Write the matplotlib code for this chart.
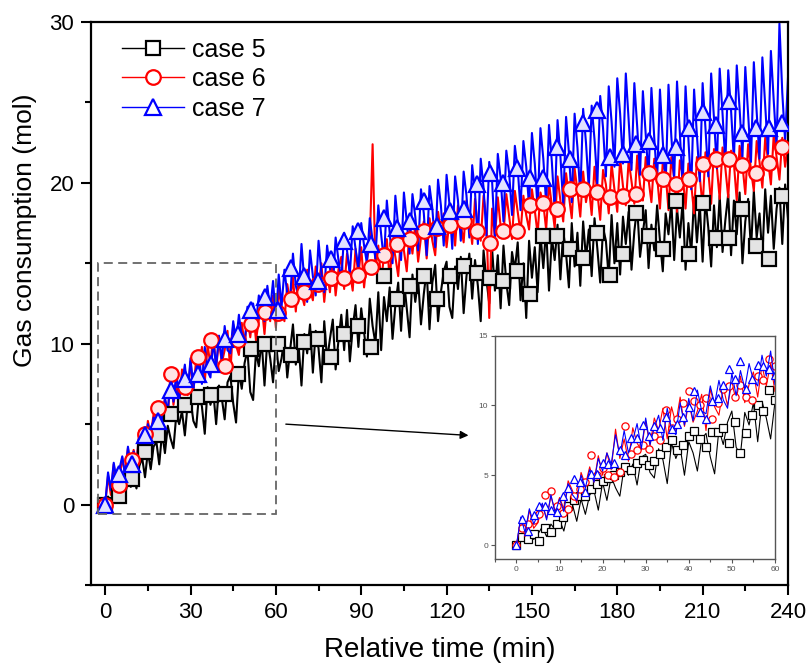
import matplotlib
matplotlib.use("Agg")
import matplotlib.pyplot as plt
from matplotlib.lines import Line2D
from matplotlib.patches import Rectangle
from matplotlib.ticker import MultipleLocator

plt.rcParams['font.family'] = ['Liberation Sans', 'DejaVu Sans']

labels = ["case 5", "case 6", "case 7"]

# dense measurement series, one value per minute (0..240)
time_dense = list(range(0, 241))

case5_dense = [
    0.0, 0.5, 0.2, 0.9, 0.4, 0.8, 1.3, 0.6, 1.5, 1.1,
    1.8, 1.0, 2.4, 2.9, 1.7, 3.3, 2.2, 3.6, 3.9, 2.5,
    4.5, 3.2, 4.9, 4.1, 3.5, 5.6, 5.0, 5.8, 4.3, 6.3,
    6.5, 5.2, 4.8, 6.9, 6.1, 4.4, 7.3, 6.2, 7.0, 5.0,
    7.4, 6.6, 5.3, 7.6, 8.0, 6.3, 5.1, 8.3, 7.2, 8.8,
    9.6, 7.0, 6.5, 9.5, 8.6, 10.2, 7.4, 10.3, 9.1, 7.6,
    10.2, 8.3, 9.1, 10.4, 7.9, 9.6, 11.2, 8.7, 9.9, 7.4,
    10.6, 9.4, 11.2, 8.2, 10.8, 9.7, 7.6, 11.4, 9.0, 10.3,
    11.5, 8.4, 10.2, 11.8, 9.6, 12.1, 8.9, 11.0, 12.4, 9.8,
    12.2, 10.7, 9.2, 12.8, 11.1, 10.0, 13.2, 9.6, 12.9, 11.4,
    13.5, 10.3, 12.4, 13.8, 10.8, 14.0, 12.2, 10.4, 14.3, 12.6,
    14.0, 11.2, 13.1, 14.6, 10.9, 13.8, 14.9, 11.4, 13.2, 14.5,
    15.1, 12.3, 11.6, 14.8, 13.4, 15.4, 11.9, 14.2, 15.6, 12.8,
    15.2, 13.6, 11.4, 15.8, 14.0, 12.5, 15.9, 13.3, 15.5, 12.2,
    16.1, 13.8, 12.4, 15.7, 14.6, 16.3, 12.7, 15.0, 11.6, 16.4,
    14.1, 16.0, 13.2, 16.8, 14.7, 17.2, 13.3, 16.6, 15.2, 17.4,
    14.0, 17.0, 15.6, 13.5, 17.5, 14.8, 16.9, 13.6, 17.6, 15.3,
    17.1, 14.2, 17.8, 15.9, 13.8, 17.2, 16.4, 14.1, 18.0, 15.0,
    17.5, 14.3, 17.9, 16.2, 18.2, 14.6, 17.0, 18.5, 15.4, 16.9,
    18.3, 14.7, 17.4, 15.8, 18.6, 16.4, 14.5, 18.1, 16.8, 18.8,
    15.2, 18.4, 16.6, 18.9, 14.6, 17.5, 15.6, 19.1, 16.3, 18.7,
    15.1, 19.0, 17.2, 14.8, 18.6, 16.0, 19.2, 15.7, 17.7, 19.3,
    15.5, 18.9, 16.8, 19.4, 15.0, 17.6, 19.0, 15.8, 19.5, 16.6,
    18.1, 15.4, 19.6, 16.9, 19.2, 15.9, 18.4, 19.7, 16.2, 19.9,
    17.8,
]

case6_dense = [
    0.0, 1.8, 0.6, 2.5, 1.2, 1.6, 2.9, 1.9, 3.5, 2.4,
    3.4, 2.6, 4.6, 3.9, 3.0, 5.2, 4.3, 5.6, 4.5, 6.4,
    5.0, 6.6, 5.4, 8.3, 6.2, 7.6, 6.0, 8.4, 7.3, 6.8,
    8.9, 7.1, 9.1, 8.2, 9.8, 7.6, 9.9, 8.7, 10.6, 8.5,
    10.2, 8.8, 9.6, 10.8, 8.2, 11.2, 9.9, 9.3, 11.3, 10.0,
    11.6, 10.4, 12.1, 10.2, 11.5, 12.4, 10.6, 12.9, 11.4, 13.0,
    11.0, 13.4, 12.2, 11.4, 13.7, 12.6, 14.1, 12.0, 14.2, 13.1,
    12.4, 14.6, 13.4, 12.7, 14.8, 13.6, 15.0, 12.6, 14.4, 13.2,
    15.3, 13.0, 14.6, 15.4, 13.4, 15.6, 14.5, 13.3, 15.9, 14.2,
    16.0, 13.5, 15.2, 16.2, 22.4, 14.6, 16.1, 13.8, 15.5, 16.5,
    13.9, 16.4, 15.4, 14.2, 16.7, 15.8, 14.5, 17.1, 15.6, 17.4,
    15.1, 16.6, 17.6, 15.3, 17.8, 16.4, 15.5, 18.2, 16.9, 18.1,
    16.0, 17.6, 18.4, 16.1, 18.6, 17.4, 16.3, 18.9, 17.8, 16.2,
    19.0, 17.2, 16.4, 19.2, 17.8, 11.6, 18.4, 16.6, 19.1, 17.3,
    16.8, 19.3, 17.9, 16.5, 19.5, 18.2, 16.9, 19.2, 18.0, 17.1,
    19.6, 18.3, 16.8, 19.4, 18.7, 17.1, 20.0, 18.6, 17.2, 20.4,
    18.9, 17.6, 20.6, 19.2, 17.8, 20.9, 19.5, 17.9, 20.7, 18.8,
    19.8, 18.0, 21.0, 19.4, 17.7, 20.8, 19.9, 18.1, 21.2, 19.6,
    18.2, 21.5, 19.8, 18.6, 21.4, 20.1, 18.7, 21.7, 19.9, 18.9,
    21.6, 20.2, 18.8, 21.5, 20.4, 18.4, 21.3, 20.6, 18.3, 21.6,
    20.3, 18.2, 21.4, 20.5, 18.4, 21.2, 19.9, 18.1, 21.6, 20.4,
    18.5, 21.9, 20.7, 18.7, 22.1, 21.0, 19.0, 22.2, 20.9, 19.1,
    22.0, 21.2, 18.9, 22.3, 21.1, 19.3, 22.4, 20.8, 19.5, 22.6,
    21.3, 19.7, 22.8, 21.4, 19.9, 23.0, 21.6, 20.2, 22.8, 21.0,
    22.4,
]

case7_dense = [
    0.0, 2.0, 0.9, 2.6, 1.5, 2.2, 3.0, 1.8, 3.6, 2.3,
    3.3, 2.4, 4.4, 3.6, 3.2, 5.0, 4.1, 5.4, 4.5, 6.2,
    5.3, 6.6, 5.8, 7.9, 6.4, 8.2, 6.6, 7.5, 8.7, 6.9,
    9.1, 7.2, 8.4, 9.3, 7.5, 9.8, 8.3, 7.9, 10.2, 8.6,
    10.5, 8.9, 11.1, 9.6, 9.4, 11.4, 10.1, 11.8, 10.4, 9.8,
    12.3, 10.7, 12.5, 11.2, 13.0, 11.8, 11.4, 13.6, 12.1, 13.9,
    11.5, 14.3, 12.3, 14.6, 13.1, 12.8, 15.6, 13.6, 12.9, 16.2,
    13.9, 12.6, 15.8, 14.2, 13.0, 16.4, 14.4, 13.2, 16.1, 14.7,
    13.6, 16.6, 15.2, 13.9, 16.9, 15.8, 14.3, 17.3, 15.9, 14.7,
    17.5, 16.1, 15.0, 17.8, 16.4, 15.3, 18.6, 16.8, 15.1, 18.9,
    16.9, 15.0, 19.2, 17.3, 15.2, 19.4, 17.6, 15.6, 19.3, 17.9,
    15.8, 19.6, 18.1, 15.5, 19.8, 18.4, 16.0, 20.2, 18.6, 16.1,
    20.5, 18.7, 15.9, 20.4, 18.9, 16.4, 20.7, 19.2, 16.6, 21.1,
    19.4, 16.2, 21.5, 19.7, 16.7, 21.3, 20.1, 16.5, 21.8, 20.3,
    17.6, 22.0, 20.6, 18.0, 22.3, 20.9, 18.3, 22.6, 21.0, 18.5,
    23.1, 21.2, 18.4, 23.4, 21.5, 18.7, 23.6, 21.3, 18.3, 23.9,
    21.7, 18.6, 24.1, 21.9, 18.8, 24.3, 22.2, 19.2, 24.6, 22.5,
    19.6, 24.8, 22.7, 19.9, 25.4, 23.4, 20.4, 26.0, 23.8, 21.0,
    26.5, 24.3, 21.2, 26.8, 23.9, 20.8, 26.2, 23.5, 20.5, 25.7,
    23.0, 20.3, 25.9, 22.8, 20.1, 25.8, 22.6, 19.8, 26.1, 22.9,
    20.2, 26.3, 23.1, 19.7, 26.0, 22.7, 19.6, 25.8, 23.0, 20.1,
    26.2, 23.4, 20.4, 26.8, 24.0, 20.9, 27.1, 24.3, 21.2, 27.0,
    24.5, 21.4, 27.3, 24.6, 21.6, 27.2, 24.2, 21.3, 27.5, 24.4,
    21.5, 27.8, 24.8, 21.8, 28.2, 25.1, 22.2, 29.9, 25.6, 22.6,
    26.5,
]

# symbol points of the main plot
time_marks = [0.0, 4.7, 9.3, 14.0, 18.7, 23.3, 28.0, 32.7, 37.3, 42.0, 46.7, 51.3,
              56.0, 60.7, 65.3, 70.0, 74.7, 79.3, 84.0, 88.7, 93.3, 98.0, 102.7,
              107.3, 112.0, 116.7, 121.3, 126.0, 130.7, 135.3, 140.0, 144.7, 149.3,
              154.0, 158.7, 163.3, 168.0, 172.7, 177.3, 182.0, 186.7, 191.3, 196.0,
              200.7, 205.3, 210.0, 214.7, 219.3, 224.0, 228.7, 233.3, 238.0]

case5_marks = [0.0, 0.55, 1.6, 3.25, 4.3, 5.6, 6.2, 6.7, 6.8, 6.9, 8.1, 9.7,
               10.0, 10.0, 9.3, 10.1, 10.3, 9.2, 10.6, 11.1, 9.8, 14.2, 12.8,
               13.6, 14.2, 12.8, 14.2, 14.8, 14.4, 14.1, 13.9, 14.5, 13.1,
               16.7, 16.7, 15.9, 15.3, 16.9, 14.3, 15.6, 18.1, 16.7, 15.9,
               18.9, 15.6, 18.75, 16.6, 16.6, 18.4, 16.1, 15.25, 19.2]

case6_marks = [0.0, 1.2, 2.8, 4.4, 6.0, 8.1, 7.3, 9.2, 10.25, 8.6, 10.2, 11.2,
               12.0, 11.9, 12.8, 13.2, 13.7, 14.1, 14.1, 14.3, 14.75, 15.5, 16.2,
               16.5, 17.0, 17.2, 17.4, 17.6, 17.0, 16.25, 17.0, 17.0, 18.6,
               18.75, 18.4, 19.6, 19.6, 19.4, 19.1, 19.2, 19.3, 20.6, 20.25,
               19.9, 20.25, 21.2, 21.5, 21.5, 21.1, 20.6, 21.25, 22.2]

case7_marks = [0.0, 1.9, 2.5, 4.3, 5.2, 7.1, 7.8, 8.1, 8.75, 10.3, 10.6, 12.1,
               12.9, 12.1, 14.7, 14.2, 13.9, 15.25, 16.4, 17.0, 16.2, 17.8, 17.2,
               17.6, 18.9, 17.3, 18.25, 18.4, 19.9, 20.6, 20.0, 20.9, 20.3,
               20.3, 22.2, 21.5, 23.75, 24.5, 21.6, 21.8, 22.4, 22.6, 21.7,
               22.2, 23.4, 24.4, 23.6, 25.1, 23.1, 23.4, 23.4, 23.7]

# symbol points of the inset (0-60 min)
inset_time_marks = [0.0, 1.3, 2.7, 4.0, 5.3, 6.7, 8.0, 9.3, 10.7, 12.0, 13.3, 14.7,
                    16.0, 17.3, 18.7, 20.0, 21.3, 22.7, 24.0, 25.3, 26.7, 28.0,
                    29.3, 30.7, 32.0, 33.3, 34.7, 36.0, 37.3, 38.7, 40.0, 41.3,
                    42.7, 44.0, 45.3, 46.7, 48.0, 49.3, 50.7, 52.0, 53.3, 54.7,
                    56.0, 57.3, 58.7, 60.0]

inset_case5 = [0.0, 0.6, 0.43, 0.8, 0.3, 1.2, 0.95, 1.5, 2.0, 2.8, 3.2, 3.5,
               3.5, 4.0, 4.4, 4.6, 4.8, 5.0, 5.2, 5.6, 5.4, 5.9, 6.1, 5.7,
               6.0, 6.5, 7.0, 7.5, 6.8, 7.2, 7.8, 8.2, 7.6, 7.0, 8.1, 8.1,
               8.4, 7.3, 8.8, 6.6, 8.0, 9.3, 10.0, 9.6, 11.1, 10.4]

inset_case6 = [0.0, 1.2, 1.5, 1.8, 2.2, 3.6, 3.9, 2.8, 2.3, 2.6, 3.5, 4.0,
               4.5, 6.45, 5.0, 5.5, 5.0, 4.9, 5.2, 8.5, 6.5, 6.8, 7.2, 6.9,
               7.8, 7.5, 9.7, 8.4, 9.0, 10.2, 11.0, 10.3, 10.0, 10.5, 9.0, 10.2,
               11.2, 11.4, 10.6, 11.5, 10.6, 10.4, 12.1, 11.8, 13.3, 12.8]

inset_case7 = [0.0, 1.84, 1.0, 2.15, 2.8, 2.8, 2.5, 2.4, 3.5, 4.1, 4.7, 4.5,
               3.8, 5.1, 5.1, 5.9, 5.8, 5.9, 6.8, 6.45, 7.7, 7.7, 8.6, 7.8,
               8.5, 8.4, 9.2, 8.3, 8.7, 9.2, 9.9, 11.05, 9.55, 9.0, 10.3, 10.5,
               11.5, 12.6, 11.9, 13.2, 11.2, 11.9, 12.9, 12.8, 12.6, 12.2]

x_ticks = [0, 30, 60, 90, 120, 150, 180, 210, 240]
y_ticks = [0, 10, 20, 30]
inset_x_ticks = [0, 10, 20, 30, 40, 50, 60]
inset_y_ticks = [0, 5, 10, 15]

colors = ["black", "red", "blue"]
faces = ["#e4e4e4", "#ffe4e4", "#e2e2ff"]
markers = ["s", "o", "^"]
msizes = [10, 10.5, 11.5]

dense = [case5_dense, case6_dense, case7_dense]
marks = [case5_marks, case6_marks, case7_marks]
inset_marks = [inset_case5, inset_case6, inset_case7]

fig = plt.figure(figsize=(8.1, 6.66), dpi=100)
ax = fig.add_axes([0.1123, 0.1216, 0.8605, 0.8454])

for d, m, c, fc, mk, ms in zip(dense, marks, colors, faces, markers, msizes):
    ax.plot(time_dense, d, color=c, lw=1.5, zorder=2)
    ax.plot(time_marks, m, linestyle="none", marker=mk, ms=ms, mfc=fc,
            mec=c, mew=1.6, zorder=3)

ax.set_xlim(-5, 240)
ax.set_ylim(-5, 30)
ax.set_xticks(x_ticks)
ax.set_yticks(y_ticks)
ax.xaxis.set_minor_locator(MultipleLocator(15))
ax.yaxis.set_minor_locator(MultipleLocator(5))
ax.tick_params(which="major", direction="out", length=7, width=1.5,
               labelsize=16, pad=5)
ax.tick_params(which="minor", direction="out", length=4, width=1.5)
ax.tick_params(top=False, right=False, which="both")
for s in ax.spines.values():
    s.set_linewidth(1.6)
ax.set_xlabel("Relative time (min)", fontsize=20, labelpad=10)
ax.set_ylabel("Gas consumption (mol)", fontsize=19)
ax.yaxis.set_label_coords(-0.078, 0.63)

# dashed zoom rectangle and arrow
rect = Rectangle((-2.5, -0.6), 62.5, 15.6, fill=False, ec="#666666",
                 lw=1.3, ls=(0, (5, 3)), zorder=4)
ax.add_patch(rect)
ax.annotate("", xy=(127.7, 4.3), xytext=(63.5, 5.0),
            arrowprops=dict(arrowstyle="-|>", color="black", lw=1.0,
                            mutation_scale=12, shrinkA=0, shrinkB=0))

handles = [Line2D([0], [0], color=c, lw=1.0, marker=mk, ms=ms, mfc="white",
                  mec=c, mew=1.6)
           for c, mk, ms in zip(colors, markers, msizes)]
ax.legend(handles, labels, loc="upper left", bbox_to_anchor=(0.012, 1.012),
          frameon=False, fontsize=18, handlelength=2.5, handletextpad=0.3,
          labelspacing=0.22)

# inset
ins = fig.add_axes([0.611, 0.1607, 0.3457, 0.3353])
n_in = 61
for d, im, c, mk in zip(dense, inset_marks, colors, markers):
    ins.plot(time_dense[:n_in], d[:n_in], color=c, lw=0.8)
    ins.plot(inset_time_marks, im, linestyle="none", marker=mk, ms=5.2,
             mfc="white", mec=c, mew=0.9)
ins.set_xlim(-5, 60)
ins.set_ylim(-1, 15)
ins.set_xticks(inset_x_ticks)
ins.set_yticks(inset_y_ticks)
ins.xaxis.set_minor_locator(MultipleLocator(5))
ins.tick_params(which="both", direction="out", labelsize=6, colors="#555555",
                length=3, width=0.8, pad=2)
ins.tick_params(which="minor", length=2)
for s in ins.spines.values():
    s.set_linewidth(1.0)
    s.set_color("#555555")

fig.savefig("out.png", dpi=100)
